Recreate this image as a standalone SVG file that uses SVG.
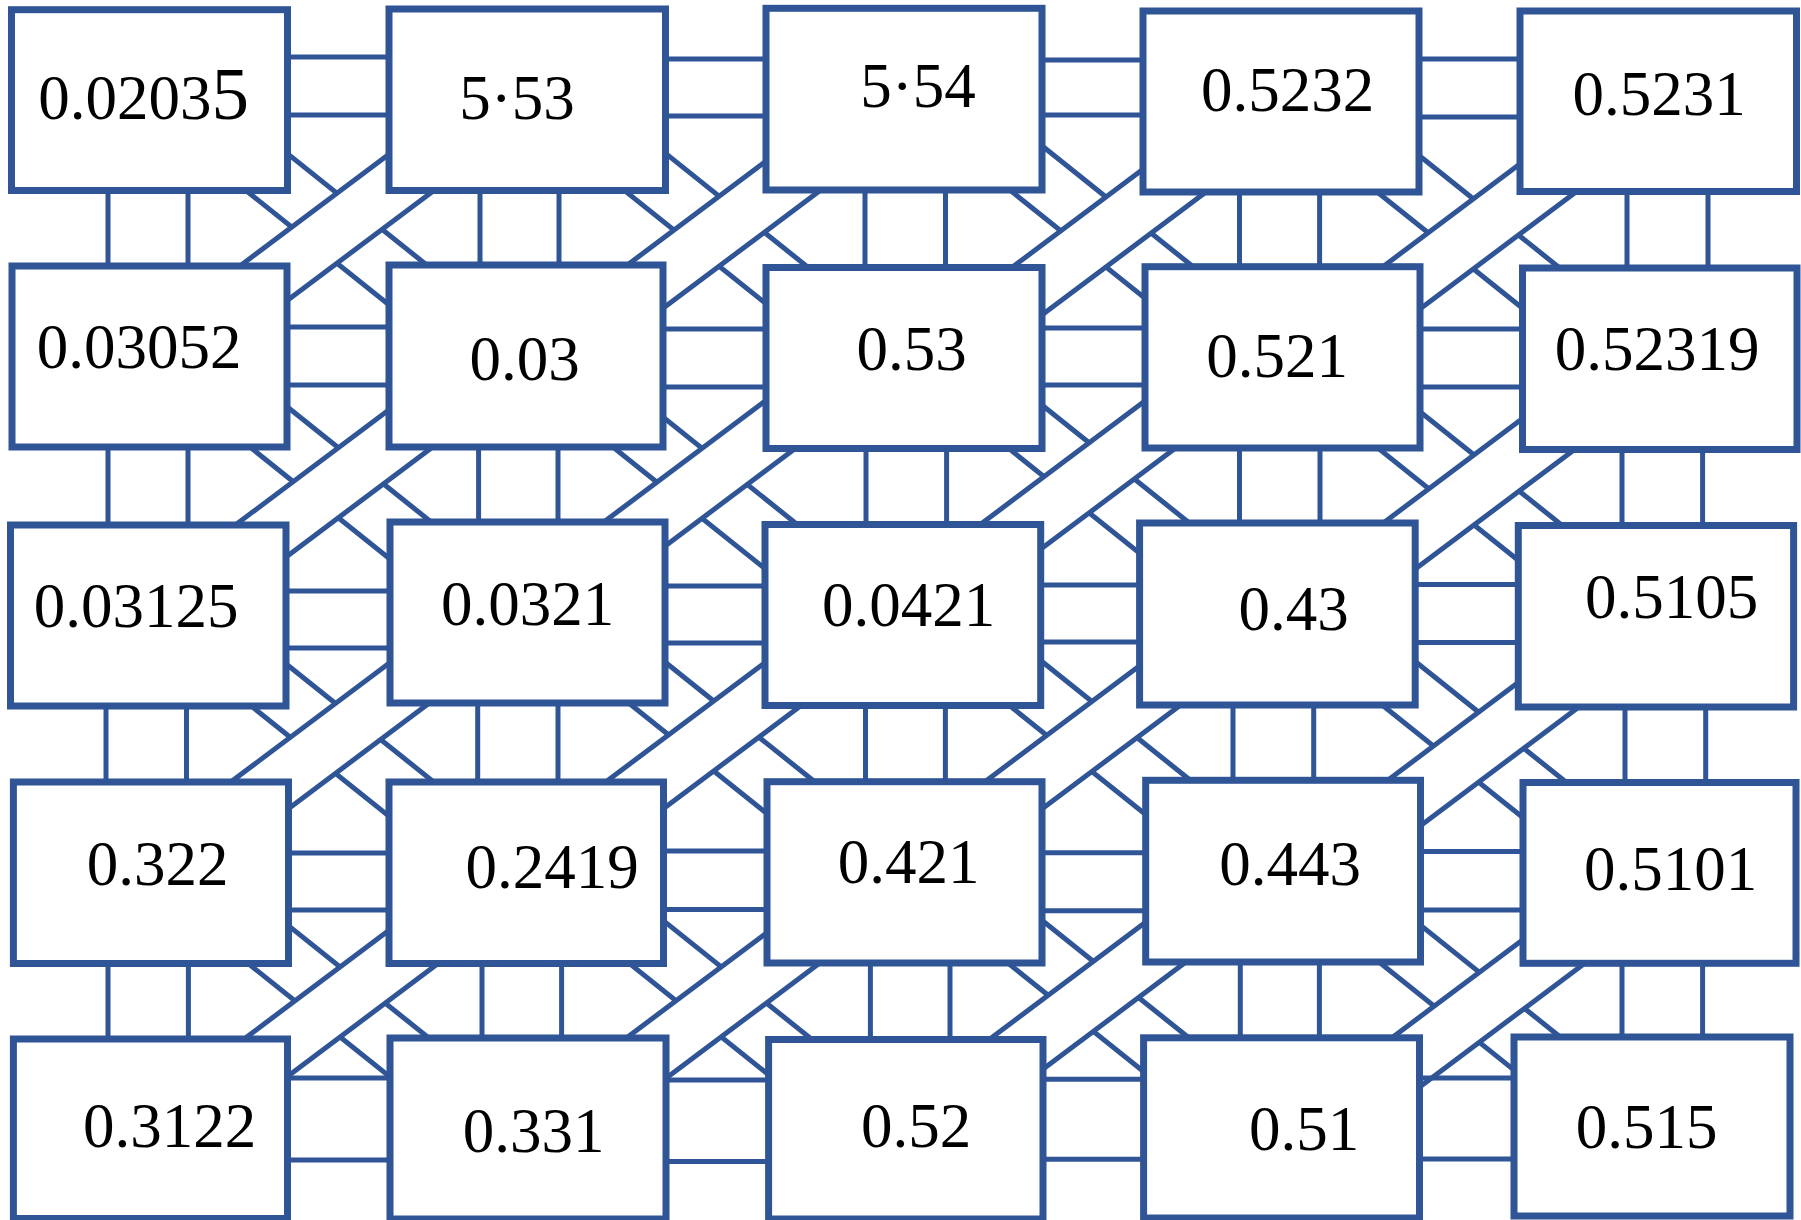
<svg xmlns="http://www.w3.org/2000/svg" xmlns:xlink="http://www.w3.org/1999/xlink" width="1801" height="1220" viewBox="0 0 1801 1220">
<defs>
<style>
.box{fill:#fff;stroke:#2F5597;stroke-width:7}
.ln{fill:none;stroke:#2F5597;stroke-width:5}
.fill{fill:#fff;stroke:none}
text{font-family:"Liberation Serif","DejaVu Serif",serif;font-size:63px;fill:#000;text-anchor:middle}
</style>
<g id="bs"><path class="ln" d="M-150,-155 L150,85 M-150,-85 L150,155"/></g>
<g id="fs"><polygon class="fill" points="-150,77.5 150,-147.5 150,-77.5 -150,147.5"/><path class="ln" d="M-150,77.5 L150,-147.5 M-150,147.5 L150,-77.5"/></g>
</defs>
<rect width="1801" height="1220" fill="#fff"/>
<g id="connectors">
<g id="bands-under">
<use href="#bs" xlink:href="#bs" x="338.3" y="229.3"/>
<use href="#bs" xlink:href="#bs" x="715" y="227.9"/>
<use href="#bs" xlink:href="#bs" x="1093" y="221.6"/>
<use href="#bs" xlink:href="#bs" x="1470" y="231.2"/>
<use href="#bs" xlink:href="#bs" x="338" y="482.5"/>
<use href="#bs" xlink:href="#bs" x="714.5" y="493.3"/>
<use href="#bs" xlink:href="#bs" x="1093.5" y="481.3"/>
<use href="#bs" xlink:href="#bs" x="1469" y="485.9"/>
<use href="#bs" xlink:href="#bs" x="338" y="740.4"/>
<use href="#bs" xlink:href="#bs" x="715" y="737"/>
<use href="#bs" xlink:href="#bs" x="1090" y="735"/>
<use href="#bs" xlink:href="#bs" x="1466.8" y="737.7"/>
<use href="#bs" xlink:href="#bs" x="339" y="1001.1"/>
<use href="#bs" xlink:href="#bs" x="715" y="996.9"/>
<use href="#bs" xlink:href="#bs" x="1093.5" y="996.5"/>
<use href="#bs" xlink:href="#bs" x="1469" y="999"/>
</g>
<g id="bands-over">
<use href="#fs" xlink:href="#fs" x="338.3" y="227.2"/>
<use href="#fs" xlink:href="#fs" x="715" y="234.3"/>
<use href="#fs" xlink:href="#fs" x="1093" y="241.7"/>
<use href="#fs" xlink:href="#fs" x="1470" y="236.4"/>
<use href="#fs" xlink:href="#fs" x="338" y="483"/>
<use href="#fs" xlink:href="#fs" x="714.5" y="474"/>
<use href="#fs" xlink:href="#fs" x="1093.5" y="474.6"/>
<use href="#fs" xlink:href="#fs" x="1469" y="493.7"/>
<use href="#fs" xlink:href="#fs" x="338" y="736.5"/>
<use href="#fs" xlink:href="#fs" x="715" y="735"/>
<use href="#fs" xlink:href="#fs" x="1090" y="737.9"/>
<use href="#fs" xlink:href="#fs" x="1466.8" y="756"/>
<use href="#fs" xlink:href="#fs" x="339" y="1002.8"/>
<use href="#fs" xlink:href="#fs" x="715" y="1006.5"/>
<use href="#fs" xlink:href="#fs" x="1093.5" y="996.3"/>
<use href="#fs" xlink:href="#fs" x="1469" y="1015"/>
</g>
<g id="bridges-h">
<path class="ln" d="M287.5,57 H389 M287.5,115 H389"/>
<path class="ln" d="M665.5,59 H766 M665.5,116 H766"/>
<path class="ln" d="M1042,60 H1143 M1042,115 H1143"/>
<path class="ln" d="M1419,59 H1520 M1419,117 H1520"/>
<path class="ln" d="M287,327 H389 M287,385 H389"/>
<path class="ln" d="M663,329 H766 M663,387 H766"/>
<path class="ln" d="M1042,328 H1145 M1042,385 H1145"/>
<path class="ln" d="M1420,329 H1522.5 M1420,387 H1522.5"/>
<path class="ln" d="M286,591 H390 M286,648 H390"/>
<path class="ln" d="M665,586 H765 M665,643 H765"/>
<path class="ln" d="M1040.7,585 H1139.6 M1040.7,642 H1139.6"/>
<path class="ln" d="M1415,584.5 H1518.3 M1415,642.5 H1518.3"/>
<path class="ln" d="M288.5,853 H389 M288.5,910 H389"/>
<path class="ln" d="M663.5,851 H767 M663.5,909.5 H767"/>
<path class="ln" d="M1042,852.7 H1145.7 M1042,910.7 H1145.7"/>
<path class="ln" d="M1420.5,851.5 H1523 M1420.5,910 H1523"/>
<path class="ln" d="M287.5,1078 H390 M287.5,1160 H390"/>
<path class="ln" d="M666,1080 H768.6 M666,1161.5 H768.6"/>
<path class="ln" d="M1043,1079.3 H1143.6 M1043,1159.3 H1143.6"/>
<path class="ln" d="M1419.5,1078 H1514 M1419.5,1159 H1514"/>
</g>
<g id="bridges-v">
<path class="ln" d="M108,190.5 V266 M188,190.5 V266"/>
<path class="ln" d="M108,447 V525 M188,447 V525"/>
<path class="ln" d="M106,706 V782 M186.5,706 V782"/>
<path class="ln" d="M108,963.5 V1039 M188.4,963.5 V1039"/>
<path class="ln" d="M480,190.5 V265 M559,190.5 V265"/>
<path class="ln" d="M478.6,447 V522 M558,447 V522"/>
<path class="ln" d="M477.7,703 V782 M558,703 V782"/>
<path class="ln" d="M482,963.5 V1038 M561.6,963.5 V1038"/>
<path class="ln" d="M865,190 V267.5 M945.5,190 V267.5"/>
<path class="ln" d="M866,448.5 V524.5 M946.6,448.5 V524.5"/>
<path class="ln" d="M865.5,705.5 V781.7 M945.4,705.5 V781.7"/>
<path class="ln" d="M870.4,963 V1039.5 M950,963 V1039.5"/>
<path class="ln" d="M1239.5,192 V266.7 M1319.6,192 V266.7"/>
<path class="ln" d="M1239.5,448 V523 M1320,448 V523"/>
<path class="ln" d="M1233,705 V780.3 M1313.7,705 V780.3"/>
<path class="ln" d="M1240.3,962 V1037.8 M1319.4,962 V1037.8"/>
<path class="ln" d="M1627,191.5 V268 M1708,191.5 V268"/>
<path class="ln" d="M1622,449.5 V525.5 M1702.6,449.5 V525.5"/>
<path class="ln" d="M1625,707 V782.5 M1705.7,707 V782.5"/>
<path class="ln" d="M1622,963.3 V1037 M1702.6,963.3 V1037"/>
</g>
</g>
<g id="nodes">
<g id="n-r1c1"><rect class="box" x="11.5" y="9.7" width="276" height="180.8"/><text x="143.5" y="119">0.0203<tspan font-size="75">5</tspan></text></g>
<g id="n-r1c2"><rect class="box" x="389" y="9" width="276.5" height="181.5"/><text x="517" y="118.5">5·53</text></g>
<g id="n-r1c3"><rect class="box" x="766" y="8.3" width="276" height="181.7"/><text x="918" y="107">5·54</text></g>
<g id="n-r1c4"><rect class="box" x="1143" y="11" width="276" height="181"/><text x="1287.5" y="111">0.5232</text></g>
<g id="n-r1c5"><rect class="box" x="1520" y="11" width="276.5" height="180.5"/><text x="1659" y="115">0.5231</text></g>
<g id="n-r2c1"><rect class="box" x="12" y="266" width="275" height="181"/><text x="139" y="368">0.03052</text></g>
<g id="n-r2c2"><rect class="box" x="389" y="265" width="274" height="182"/><text x="524.5" y="380">0.03</text></g>
<g id="n-r2c3"><rect class="box" x="766" y="267.5" width="276" height="181"/><text x="911.5" y="370">0.53</text></g>
<g id="n-r2c4"><rect class="box" x="1145" y="266.7" width="275" height="181.3"/><text x="1277" y="376.5">0.521</text></g>
<g id="n-r2c5"><rect class="box" x="1522.5" y="268" width="274.5" height="181.5"/><text x="1657" y="370">0.52319</text></g>
<g id="n-r3c1"><rect class="box" x="10.5" y="525" width="275.5" height="181"/><text x="136" y="626.5">0.03125</text></g>
<g id="n-r3c2"><rect class="box" x="390" y="522" width="275" height="181"/><text x="527.5" y="625">0.0321</text></g>
<g id="n-r3c3"><rect class="box" x="765" y="524.5" width="275.7" height="181"/><text x="908.5" y="625.5">0.0421</text></g>
<g id="n-r3c4"><rect class="box" x="1139.6" y="523" width="275.6" height="182"/><text x="1293.5" y="630">0.43</text></g>
<g id="n-r3c5"><rect class="box" x="1518.3" y="525.5" width="275.3" height="181.5"/><text x="1671.7" y="618">0.5105</text></g>
<g id="n-r4c1"><rect class="box" x="13.4" y="782" width="275.1" height="181.5"/><text x="157.5" y="885">0.322</text></g>
<g id="n-r4c2"><rect class="box" x="389" y="782" width="274.5" height="181.5"/><text x="552" y="888">0.2419</text></g>
<g id="n-r4c3"><rect class="box" x="767" y="781.7" width="275" height="181.3"/><text x="908.5" y="883">0.421</text></g>
<g id="n-r4c4"><rect class="box" x="1145.7" y="780.3" width="274.8" height="181.7"/><text x="1290" y="884.5">0.443</text></g>
<g id="n-r4c5"><rect class="box" x="1523" y="782.5" width="273" height="180.8"/><text x="1670.5" y="889.5">0.5101</text></g>
<g id="n-r5c1"><rect class="box" x="13.4" y="1039" width="274.1" height="179.5"/><text x="169.5" y="1146.5">0.3122</text></g>
<g id="n-r5c2"><rect class="box" x="390" y="1038" width="276" height="181"/><text x="533.5" y="1151.5">0.331</text></g>
<g id="n-r5c3"><rect class="box" x="768.6" y="1039.5" width="274.4" height="179.5"/><text x="916" y="1146.5">0.52</text></g>
<g id="n-r5c4"><rect class="box" x="1143.6" y="1037.8" width="275.9" height="180.2"/><text x="1304" y="1150">0.51</text></g>
<g id="n-r5c5"><rect class="box" x="1514" y="1037" width="276" height="179"/><text x="1646.5" y="1148">0.515</text></g>
</g>
</svg>
